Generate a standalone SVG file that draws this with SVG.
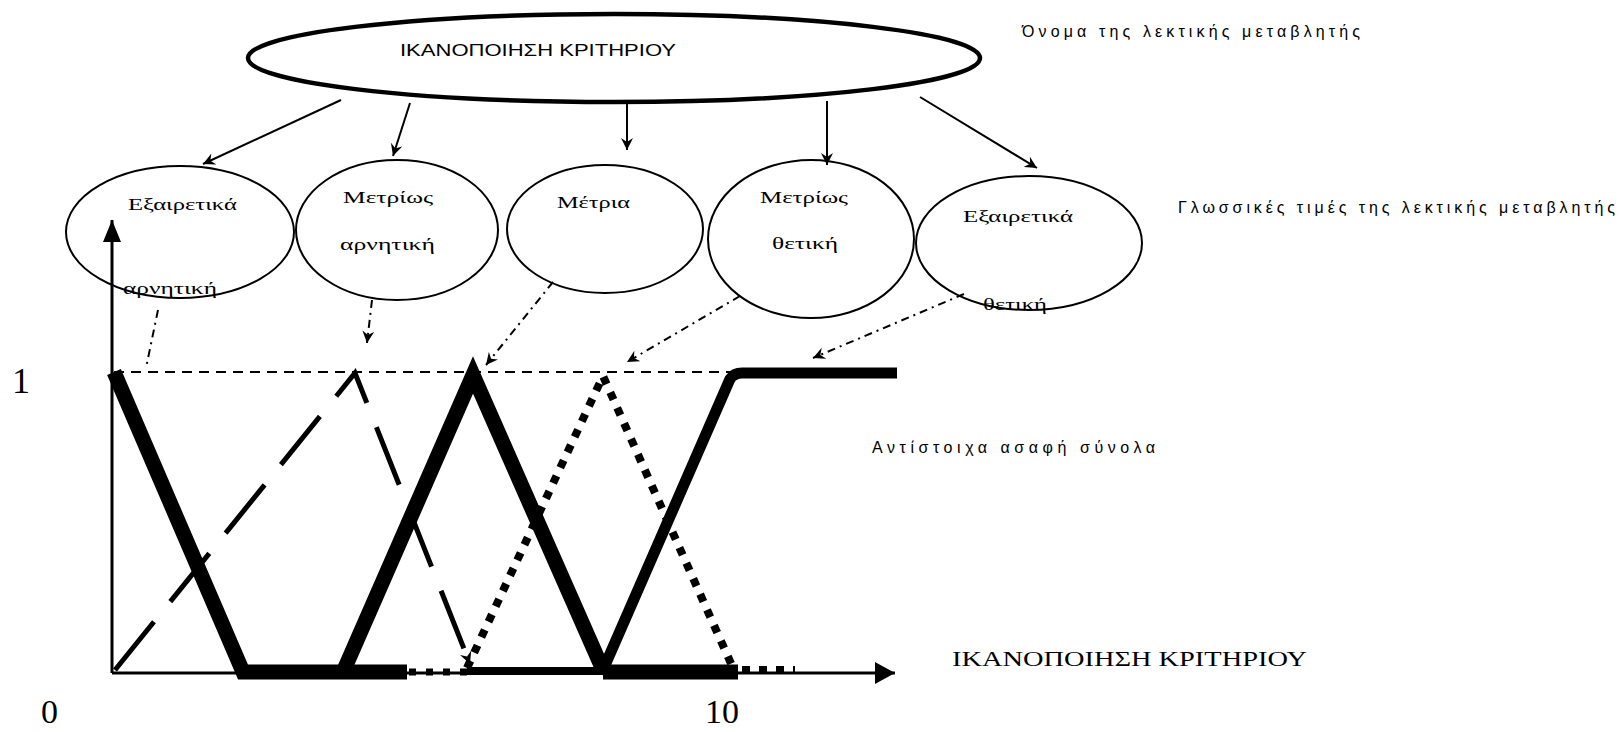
<svg xmlns="http://www.w3.org/2000/svg" width="1620" height="732" viewBox="0 0 1620 732">
<defs>
<marker id="ah" markerUnits="userSpaceOnUse" markerWidth="14" markerHeight="12" refX="12" refY="6" orient="auto"><path d="M0,0 L12,6 L0,12 L4,6 Z" fill="#000"/></marker>
<marker id="axX" markerUnits="userSpaceOnUse" markerWidth="22" markerHeight="24" refX="20" refY="12" orient="auto"><path d="M0,1 L20,12 L0,23 Z" fill="#000"/></marker>
<marker id="axY" markerUnits="userSpaceOnUse" markerWidth="24" markerHeight="20" refX="22" refY="10" orient="auto"><path d="M0,1 L22,10 L0,19 Z" fill="#000"/></marker>
</defs>
<style>
.lbl{font-family:"Liberation Serif",serif;font-size:17px;fill:#000}
.sans{font-family:"Liberation Sans",sans-serif;font-size:16px;fill:#000}
.ser{font-family:"Liberation Serif",serif;fill:#000}
.ell{fill:none;stroke:#000;stroke-width:2}
.conn{fill:none;stroke:#000;stroke-width:2}
.dconn{fill:none;stroke:#000;stroke-width:2;stroke-dasharray:8 5 2 5}
.thick{fill:none;stroke:#000;stroke-width:15;stroke-linejoin:miter}
</style>
<rect width="1620" height="732" fill="#fff"/>

<g id="node-main">
<ellipse cx="614" cy="58" rx="366" ry="44" fill="none" stroke="#000" stroke-width="4.5"/>
<text class="sans" x="400" y="56" font-size="18" textLength="276" lengthAdjust="spacingAndGlyphs">ΙΚΑΝΟΠΟΙΗΣΗ ΚΡΙΤΗΡΙΟΥ</text>
</g>

<g id="label-name"><text class="sans" x="1022" y="37" textLength="338" lengthAdjust="spacing">Όνομα της λεκτικής μεταβλητής</text></g>
<g id="label-values"><text class="sans" x="1178" y="213" textLength="437" lengthAdjust="spacing">Γλωσσικές τιμές της λεκτικής μεταβλητής</text></g>
<g id="label-sets"><text class="sans" x="872" y="453" textLength="283" lengthAdjust="spacing">Αντίστοιχα ασαφή σύνολα</text></g>

<g id="node-ext-neg">
<ellipse class="ell" cx="180" cy="232" rx="114" ry="66"/>
<text class="lbl" x="128" y="210" textLength="109" lengthAdjust="spacingAndGlyphs">Εξαιρετικά</text>
<text class="lbl" x="123" y="294" textLength="94" lengthAdjust="spacingAndGlyphs">αρνητική</text>
</g>
<g id="node-mod-neg">
<ellipse class="ell" cx="397" cy="230" rx="101" ry="70"/>
<text class="lbl" x="343" y="203" textLength="90" lengthAdjust="spacingAndGlyphs">Μετρίως</text>
<text class="lbl" x="340" y="250" textLength="95" lengthAdjust="spacingAndGlyphs">αρνητική</text>
</g>
<g id="node-mod">
<ellipse class="ell" cx="605" cy="229" rx="98" ry="64"/>
<text class="lbl" x="557" y="208" textLength="73" lengthAdjust="spacingAndGlyphs">Μέτρια</text>
</g>
<g id="node-mod-pos">
<ellipse class="ell" cx="811" cy="239" rx="103" ry="79"/>
<text class="lbl" x="760" y="203" textLength="88" lengthAdjust="spacingAndGlyphs">Μετρίως</text>
<text class="lbl" x="772" y="249" textLength="66" lengthAdjust="spacingAndGlyphs">θετική</text>
</g>
<g id="node-ext-pos">
<ellipse class="ell" cx="1029" cy="243" rx="113" ry="67"/>
<text class="lbl" x="963" y="222" textLength="110" lengthAdjust="spacingAndGlyphs">Εξαιρετικά</text>
<text class="lbl" x="983" y="310" textLength="64" lengthAdjust="spacingAndGlyphs">θετική</text>
</g>

<g id="connectors">
<line class="conn" x1="341" y1="100" x2="203" y2="164" marker-end="url(#ah)"/>
<line class="conn" x1="410" y1="103" x2="393" y2="156" marker-end="url(#ah)"/>
<line class="conn" x1="627" y1="104" x2="627" y2="150" marker-end="url(#ah)"/>
<line class="conn" x1="827" y1="101" x2="827" y2="165" marker-end="url(#ah)"/>
<line class="conn" x1="920" y1="97" x2="1037" y2="168" marker-end="url(#ah)"/>
<line class="dconn" x1="158" y1="310" x2="146" y2="368"/>
<line class="dconn" x1="372" y1="300" x2="367" y2="343" marker-end="url(#ah)"/>
<line class="dconn" x1="553" y1="282" x2="486" y2="365" marker-end="url(#ah)"/>
<line class="dconn" x1="740" y1="296" x2="627" y2="362" marker-end="url(#ah)"/>
<line class="dconn" x1="964" y1="294" x2="813" y2="358" marker-end="url(#ah)"/>
</g>

<g id="chart">
<line x1="114" y1="372" x2="733" y2="372" stroke="#000" stroke-width="2" stroke-dasharray="10 7"/>
<line x1="112" y1="673" x2="112" y2="220" stroke="#000" stroke-width="3" marker-end="url(#axY)"/>
<line x1="112" y1="673" x2="895" y2="673" stroke="#000" stroke-width="3" marker-end="url(#axX)"/>
<path class="thick" d="M114,372 L243,672 H407"/>
<line x1="409" y1="672" x2="467" y2="672" stroke="#000" stroke-width="7" stroke-dasharray="7 10"/>
<polyline points="115,670 355,373 470,664" fill="none" stroke="#000" stroke-width="5" stroke-dasharray="62 26" marker-end="url(#ah)"/>
<path class="thick" d="M344,670 L473,375 L603,670"/>
<line x1="467" y1="671" x2="603" y2="671" stroke="#000" stroke-width="8"/>
<line x1="603" y1="672" x2="738" y2="672" stroke="#000" stroke-width="15"/>
<line x1="742" y1="670" x2="795" y2="670" stroke="#000" stroke-width="8" stroke-dasharray="8 9"/>
<path d="M603,670 L730,379 Q734,373 742,373 H897" fill="none" stroke="#000" stroke-width="11"/>
<polyline points="467,668 603,376 733,668" fill="none" stroke="#000" stroke-width="8" stroke-dasharray="8 9"/>
</g>

<g id="axis-labels">
<text class="ser" x="12" y="393" font-size="36">1</text>
<text class="ser" x="41" y="723" font-size="34">0</text>
<text class="ser" x="705" y="723" font-size="34">10</text>
<text class="ser" x="952" y="666" font-size="20" textLength="355" lengthAdjust="spacingAndGlyphs">ΙΚΑΝΟΠΟΙΗΣΗ ΚΡΙΤΗΡΙΟΥ</text>
</g>
</svg>
